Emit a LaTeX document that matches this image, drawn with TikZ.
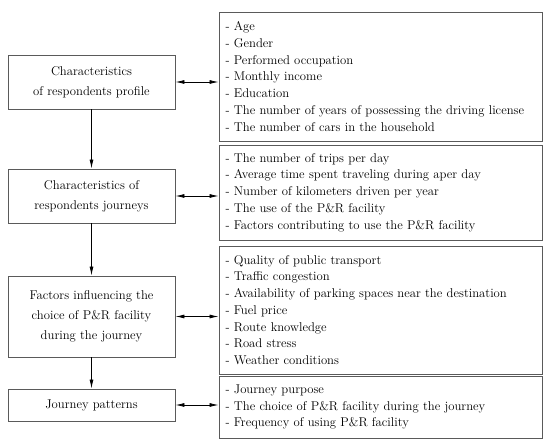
\documentclass[tikz,border=0pt]{standalone}
\usepackage{fontspec}
\setmainfont{Latin Modern Roman}
\usetikzlibrary{arrows.meta}
\definecolor{boxline}{HTML}{5A5A5A}
\begin{document}
\begin{tikzpicture}[x=1pt,y=1pt,
  leftbox/.style={draw=boxline,line width=0.9pt,minimum width=167pt,align=center,inner sep=0pt,font=\fontsize{12.7}{20}\selectfont},
  rightbox/.style={draw=boxline,line width=0.9pt,minimum width=323pt,text width=310pt,align=left,inner xsep=6.5pt,inner ysep=0pt,font=\fontsize{12.7}{16.7}\selectfont},
  arr/.style={line width=0.8pt,-{Latex[length=9pt,width=4pt]}},
  darr/.style={line width=0.8pt,{Latex[length=9pt,width=4pt]}-{Latex[length=9pt,width=4pt]}}]
\useasboundingbox (0,0) rectangle (550,444);
\node[leftbox,minimum height=54pt] (b1) at (91.5,362) {Characteristics\\of respondents profile};
\node[leftbox,minimum height=54pt] (b2) at (91.5,248) {Characteristics of\\respondents journeys};
\node[leftbox,minimum height=81pt] (b3) at (91.5,127.5) {Factors influencing the\\choice of P\&R facility\\during the journey};
\node[leftbox,minimum height=32pt] (b4) at (91.5,39) {Journey patterns};
\node[rightbox,minimum height=129pt] (r1) at (380.5,367.5) {- Age\\- Gender\\- Performed occupation\\- Monthly income\\- Education\\- The number of years of possessing the driving license\\- The number of cars in the household};
\node[rightbox,minimum height=95pt] (r2) at (380.5,251.5) {- The number of trips per day\\- Average time spent traveling during aper day\\- Number of kilometers driven per year\\- The use of the P\&R facility\\- Factors contributing to use the P\&R facility};
\node[rightbox,minimum height=128pt] (r3) at (380.5,134) {- Quality of public transport\\- Traffic congestion\\- Availability of parking spaces near the destination\\- Fuel price\\- Route knowledge\\- Road stress\\- Weather conditions};
\node[rightbox,minimum height=62pt] (r4) at (380.5,37) {- Journey purpose\\- The choice of P\&R facility during the journey\\- Frequency of using P\&R facility};
\draw[arr] (b1) -- (b2);
\draw[arr] (b2) -- (b3);
\draw[arr] (b3) -- (b4);
\draw[darr] (b1.east) -- (b1.east -| r1.west);
\draw[darr] (b2.east) -- (b2.east -| r2.west);
\draw[darr] (b3.east) -- (b3.east -| r3.west);
\draw[darr] (b4.east) -- (b4.east -| r4.west);
\end{tikzpicture}
\end{document}
